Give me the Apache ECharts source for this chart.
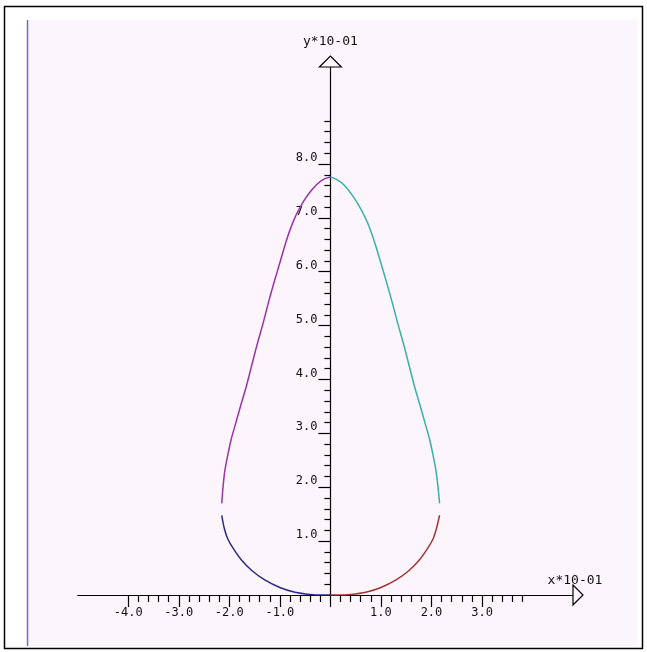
<!DOCTYPE html>
<html>
<head>
<meta charset="utf-8">
<script src="https://cdn.jsdelivr.net/npm/echarts@6/dist/echarts.min.js"></script>
<style>
html,body{margin:0;padding:0;background:#fff;}
#c{width:647px;height:652px;}
</style>
</head>
<body>
<div id="c"></div>
<script>
// ---- data (units of 10^-1) ----
var xRange = [-5, 4.8];
var yRange = [0, 9.8];
var xMajorTicks = [-4, -3, -2, -1, 0, 1, 2, 3];
var xTickLabels = [-4, -3, -2, -1, 1, 2, 3];
var yMajorTicks = [1, 2, 3, 4, 5, 6, 7, 8];
var yTickLabels = [1, 2, 3, 4, 5, 6, 7, 8];
var xMinorTicks = [-3.8,-3.6,-3.4,-3.2,-2.8,-2.6,-2.4,-2.2,-1.8,-1.6,-1.4,-1.2,-0.8,-0.6,-0.4,-0.2,
                   0.2,0.4,0.6,0.8,1.2,1.4,1.6,1.8,2.2,2.4,2.6,2.8,3.2,3.4,3.6,3.8];
var yMinorTicks = [0.2,0.4,0.6,0.8,1.2,1.4,1.6,1.8,2.2,2.4,2.6,2.8,3.2,3.4,3.6,3.8,4.2,4.4,4.6,4.8,
                   5.2,5.4,5.6,5.8,6.2,6.4,6.6,6.8,7.2,7.4,7.6,7.8,8.2,8.4,8.6,8.8];
var xName = 'x*10-01';
var yName = 'y*10-01';

var upperLeft = [[-2.15,1.70],[-2.125,2.00],[-2.09,2.30],[-2.03,2.60],[-1.96,2.90],[-1.87,3.20],
                 [-1.78,3.50],[-1.67,3.85],[-1.56,4.25],[-1.45,4.65],[-1.33,5.05],[-1.22,5.45],
                 [-1.10,5.85],[-0.99,6.20],[-0.89,6.52],[-0.79,6.80],[-0.68,7.05],[-0.55,7.28],
                 [-0.41,7.47],[-0.27,7.62],[-0.13,7.72],[0,7.76]];
var upperRight = [[0,7.76],[0.13,7.71],[0.27,7.61],[0.41,7.45],[0.55,7.25],[0.68,7.02],[0.79,6.78],
                  [0.89,6.50],[0.99,6.19],[1.10,5.84],[1.22,5.44],[1.33,5.05],[1.45,4.65],
                  [1.56,4.25],[1.67,3.85],[1.78,3.50],[1.87,3.20],[1.96,2.90],[2.03,2.60],
                  [2.09,2.30],[2.13,2.00],[2.16,1.70]];
var lowerLeft = [[-2.15,1.48],[-2.10,1.24],[-2.03,1.04],[-1.92,0.86],[-1.76,0.65],[-1.55,0.45],
                 [-1.30,0.28],[-1.00,0.14],[-0.70,0.05],[-0.40,0.01],[-0.15,0.0],[0,0]];
var lowerRight = [[0,0],[0.15,0.0],[0.40,0.01],[0.70,0.05],[1.00,0.14],[1.30,0.28],[1.55,0.45],
                  [1.76,0.65],[1.92,0.86],[2.03,1.04],[2.10,1.24],[2.16,1.48]];

var FONT = 'DejaVu Sans Mono';
var PINK = '#fcf5fc';
var fmt = function (v) { return Number(v).toFixed(1); };

function axisBase(dim, grid, range, extra) {
  var a = {
    type: 'value', gridIndex: grid, position: dim === 'x' ? 'bottom' : 'left',
    min: range[0], max: range[1],
    axisLine: { show: false, onZero: false },
    axisTick: { show: false }, axisLabel: { show: false }, splitLine: { show: false }
  };
  for (var k in extra) a[k] = extra[k];
  return a;
}
var tickLine = { color: '#000', width: 1.2 };

var chart = echarts.init(document.getElementById('c'), null, { renderer: 'canvas' });

var grids = [
  { left: 77.7, right: 74, top: 67, bottom: 57, containLabel: false },
  { left: 330.4, right: 74, top: 67, bottom: 57, containLabel: false }
];

var option = {
  animation: false,
  backgroundColor: '#ffffff',
  grid: grids,
  xAxis: [
    axisBase('x', 0, xRange, {
      axisLine: { show: true, onZero: false, lineStyle: { color: '#000', width: 1.2 } },
      name: xName, nameLocation: 'end', nameGap: 2,
      nameTextStyle: { fontFamily: FONT, fontSize: 13, color: '#111', align: 'center', verticalAlign: 'bottom', padding: [0, 0, 8, 0] }
    }),
    axisBase('x', 0, xRange, {
      axisTick: { show: true, customValues: xMajorTicks, length: 12, lineStyle: tickLine },
      axisLabel: { show: true, customValues: xTickLabels, formatter: fmt, margin: 12,
                   fontFamily: FONT, fontSize: 12, color: '#111' }
    }),
    axisBase('x', 0, xRange, {
      axisTick: { show: true, customValues: xMinorTicks, length: 7, lineStyle: tickLine }
    }),
    axisBase('x', 1, [0, 1], {})
  ],
  yAxis: [
    axisBase('y', 0, yRange, {}),
    axisBase('y', 1, yRange, {
      axisLine: { show: true, onZero: false, lineStyle: { color: '#000', width: 1.2 } },
      name: yName, nameLocation: 'end', nameGap: 19,
      nameTextStyle: { fontFamily: FONT, fontSize: 13, color: '#111' }
    }),
    axisBase('y', 1, yRange, {
      axisTick: { show: true, customValues: yMajorTicks, length: 12, lineStyle: tickLine },
      axisLabel: { show: true, customValues: yTickLabels, formatter: fmt, margin: 13, verticalAlign: 'bottom',
                   fontFamily: FONT, fontSize: 12, color: '#111' }
    }),
    axisBase('y', 1, yRange, {
      axisTick: { show: true, customValues: yMinorTicks, length: 6, lineStyle: tickLine }
    })
  ],
  series: [
    { type: 'line', data: upperLeft, showSymbol: false, smooth: 0.3, lineStyle: { color: '#9a33a8', width: 1.5 }, z: 3 },
    { type: 'line', data: upperRight, showSymbol: false, smooth: 0.3, lineStyle: { color: '#35b0ad', width: 1.5 }, z: 3 },
    { type: 'line', data: lowerLeft, showSymbol: false, smooth: 0.3, lineStyle: { color: '#2b2b85', width: 1.5 }, z: 3 },
    { type: 'line', data: lowerRight, showSymbol: false, smooth: 0.3, lineStyle: { color: '#a33535', width: 1.5 }, z: 3 }
  ],
  graphic: [
    { type: 'rect', z: -100, silent: true, shape: { x: 4.5, y: 6.5, width: 638, height: 642 },
      style: { fill: '#ffffff', stroke: '#000', lineWidth: 1.5 } },
    { type: 'rect', z: -99, silent: true, shape: { x: 28, y: 20, width: 609, height: 626 },
      style: { fill: PINK } },
    { type: 'line', z: -98, silent: true, shape: { x1: 27.5, y1: 20, x2: 27.5, y2: 646 },
      style: { stroke: '#6a6ad8', lineWidth: 1.5 } }
  ]
};
chart.setOption(option);

// place the y axis grid exactly at x = 0 of the main scale
var zeroX = chart.convertToPixel({ xAxisIndex: 0 }, 0);
grids[1].left = zeroX;
chart.setOption({ grid: grids });

// open arrow heads at the ends of both axes
var yEnd = chart.convertToPixel({ gridIndex: 0 }, [0, yRange[1]]);
var xEnd = chart.convertToPixel({ gridIndex: 0 }, [xRange[1], 0]);
chart.setOption({
  graphic: option.graphic.concat([
    { type: 'polygon', z: 10, silent: true,
      shape: { points: [[yEnd[0] - 11, yEnd[1]], [yEnd[0] + 11, yEnd[1]], [yEnd[0], yEnd[1] - 11]] },
      style: { fill: PINK, stroke: '#000', lineWidth: 1.2 } },
    { type: 'polygon', z: 10, silent: true,
      shape: { points: [[xEnd[0], xEnd[1] - 10], [xEnd[0], xEnd[1] + 10], [xEnd[0] + 10, xEnd[1]]] },
      style: { fill: PINK, stroke: '#000', lineWidth: 1.2 } }
  ])
});
</script>
</body>
</html>
